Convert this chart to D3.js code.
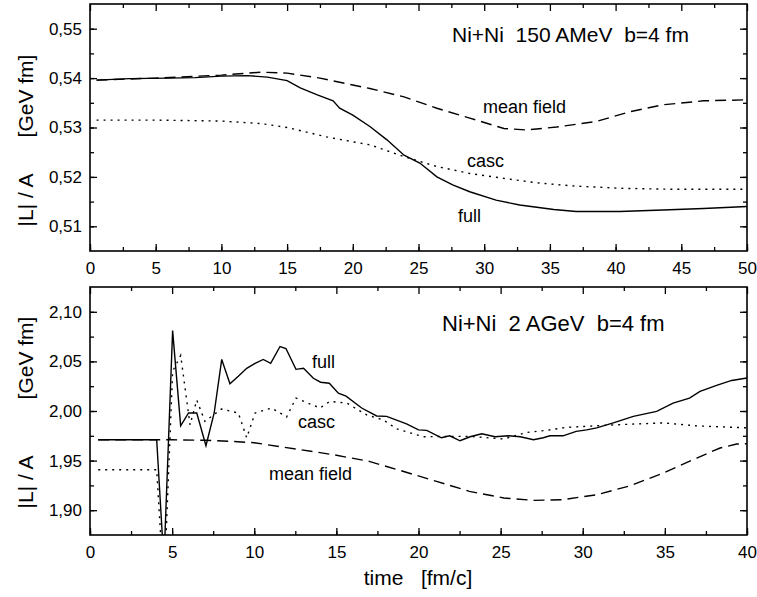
<!DOCTYPE html>
<html>
<head>
<meta charset="utf-8">
<script src="https://cdn.jsdelivr.net/npm/d3@7"></script>
<style>
  body { margin: 0; background: #fff; }
  text { font-family: "Liberation Sans", Arial, sans-serif; fill: #000; }
</style>
</head>
<body>
<div id="chart"></div>
<script>
// Angular momentum per nucleon vs. time, two panels (Ni+Ni 150 AMeV and 2 AGeV)

// ---- upper panel, [time, |L|/A] ----
const topFull = [[0.5,0.5396],[3,0.5399],[6,0.5400],[8,0.5401],[10,0.5404],[12,0.5405],[13.5,0.5402],[15,0.5395],
  [16,0.5380],[17.3,0.5366],[18.5,0.5354],[19,0.5339],[20,0.5325],[21.3,0.5302],[22.6,0.5275],[23.9,0.5244],
  [25.1,0.5228],[26.4,0.5200],[27.6,0.5184],[28.9,0.5170],[30.9,0.5153],[32.7,0.5143],[35.3,0.5134],[37,0.5130],
  [40.3,0.5130],[43.6,0.5133],[46.7,0.5136],[50,0.5140]];
const topMeanField = [[0.5,0.5396],[5,0.5400],[10,0.5406],[13,0.5412],[15,0.5410],[17.5,0.5400],[20,0.5386],
  [21.3,0.5379],[23.9,0.5362],[26.4,0.5339],[28.9,0.5319],[31.5,0.5298],[33.2,0.5295],[35.5,0.5301],[38.5,0.5312],
  [41.1,0.5332],[43.6,0.5346],[46.7,0.5354],[50,0.5356]];
const topCasc = [[0.5,0.5315],[5,0.5315],[10,0.5313],[13,0.5308],[15,0.5300],[18,0.5281],[20,0.5271],[21.3,0.5265],
  [23.9,0.5241],[26.4,0.5221],[28.9,0.5207],[31.5,0.5197],[34,0.5188],[36.6,0.5182],[40.3,0.5177],[44.2,0.5175],
  [50,0.5175]];

// ---- lower panel ----
const botFull = [[0.5,1.971],[4.06,1.971],[4.5,1.847],[5.03,2.081],[5.52,1.985],[6.0,1.998],[6.5,1.998],[7.06,1.965],
  [7.56,1.998],[8.02,2.052],[8.52,2.0275],[9.03,2.035],[9.54,2.043],[10.05,2.048],[10.55,2.052],[11.0,2.048],
  [11.57,2.065],[11.93,2.063],[12.54,2.042],[13.0,2.043],[13.6,2.033],[14.04,2.029],[14.57,2.028],[15.12,2.018],
  [15.59,2.015],[16.54,2.003],[17.45,1.995],[18.06,1.9946],[19.27,1.987],[20.0,1.981],[20.5,1.9805],[21.4,1.973],
  [21.9,1.975],[22.53,1.970],[23.14,1.974],[23.85,1.977],[24.66,1.974],[25.47,1.975],[26.2,1.974],[27.0,1.971],
  [27.6,1.973],[28.0,1.975],[28.8,1.975],[29.6,1.9795],[30.24,1.981],[30.85,1.983],[31.86,1.988],[33.08,1.9946],
  [34.5,1.9996],[35.5,2.008],[36.5,2.013],[37.14,2.0198],[38.15,2.0258],[39.07,2.0308],[40,2.0333]];
const botCasc = [[0.5,1.9408],[4.06,1.9408],[4.5,1.82],[5.03,2.04],[5.52,2.056],[6.09,1.986],[6.5,2.011],[7.0,1.9895],
  [8.0,2.002],[9.03,1.998],[9.54,1.973],[10.05,1.998],[11.06,2.003],[11.97,1.994],[12.54,2.013],[14.0,2.003],
  [14.6,2.0097],[15.63,2.008],[16.85,1.996],[17.86,1.991],[18.67,1.982],[20.3,1.974],[21.7,1.9744],[23.1,1.9744],
  [25.2,1.9718],[26.6,1.9784],[27.8,1.9805],[29.0,1.9835],[30.2,1.9845],[31.86,1.986],[34.9,1.988],[36.94,1.985],
  [40,1.983]];
const botMeanField = [[0.5,1.971],[5,1.971],[7,1.9705],[8.5,1.9695],[10,1.968],[12.8,1.961],[14.8,1.956],[17,1.9492],
  [19.1,1.939],[21.1,1.929],[23.1,1.919],[25.2,1.9123],[27,1.9099],[28.8,1.9106],[30.85,1.9156],[32.9,1.9247],
  [34.9,1.9375],[36.94,1.9526],[38.36,1.9627],[39.37,1.9667],[40,1.967]];

// Tick values
const topXTicks = [0, 5, 10, 15, 20, 25, 30, 35, 40, 45, 50];
const topYTicks = [0.51, 0.52, 0.53, 0.54, 0.55];
const botXTicks = [0, 5, 10, 15, 20, 25, 30, 35, 40];
const botYTicks = [1.90, 1.95, 2.00, 2.05, 2.10];

const width = 757, height = 597;
const svg = d3.select("#chart").append("svg")
              .attr("width", width)
              .attr("height", height);

const commaFmt = d3.formatLocale({decimal: ",", thousands: ".", grouping: [3], currency: ["", ""]});

function drawPanel(cfg) {
    const x = d3.scaleLinear().domain(cfg.xDomain).range([90, 747]);
    const y = d3.scaleLinear().domain(cfg.yDomain).range([cfg.bottom, cfg.top]);
    const g = svg.append("g");

    // Clip the curves to the frame (the spike near t=5 leaves it)
    g.append("clipPath").attr("id", cfg.id + "-clip")
     .append("rect")
     .attr("x", 90).attr("y", cfg.top)
     .attr("width", 657).attr("height", cfg.bottom - cfg.top);

    const line = d3.line().x(d => x(d[0])).y(d => y(d[1]));
    const curves = g.append("g").attr("clip-path", "url(#" + cfg.id + "-clip)");
    cfg.series.forEach(function (s) {
        curves.append("path")
              .datum(s.data)
              .attr("fill", "none")
              .attr("stroke", "#000")
              .attr("stroke-width", 1.4)
              .attr("stroke-dasharray", s.dash)
              .attr("d", line);
    });

    // Axes with inward ticks on all four sides
    const yFmt = commaFmt.format(cfg.yFormat);
    const xMinor = d3.range(cfg.xDomain[0], cfg.xDomain[1] + 0.01, cfg.xMinorStep);
    const yMinor = d3.range(cfg.yTicks[0] - cfg.yMinorStep, cfg.yDomain[1], cfg.yMinorStep)
                     .filter(v => v > cfg.yDomain[0] && v < cfg.yDomain[1]);

    g.append("g").attr("transform", "translate(0," + cfg.bottom + ")")
     .call(d3.axisBottom(x).tickValues(cfg.xTicks).tickSize(-7).tickPadding(11).tickFormat(d3.format("d")));
    g.append("g").attr("transform", "translate(0," + cfg.bottom + ")")
     .call(d3.axisBottom(x).tickValues(xMinor).tickSize(-4).tickFormat(""));
    g.append("g").attr("transform", "translate(0," + cfg.top + ")")
     .call(d3.axisTop(x).tickValues(xMinor).tickSize(-7).tickFormat(""))
     .selectAll(".tick line").attr("y2", (d, i) => i % 2 ? 4 : 7);
    g.append("g").attr("transform", "translate(90,0)")
     .call(d3.axisLeft(y).tickValues(cfg.yTicks).tickSize(-7).tickPadding(8).tickFormat(yFmt));
    g.append("g").attr("transform", "translate(90,0)")
     .call(d3.axisLeft(y).tickValues(yMinor).tickSize(-4).tickFormat(""));
    g.append("g").attr("transform", "translate(747,0)")
     .call(d3.axisRight(y).tickValues(cfg.yTicks).tickSize(-7).tickFormat(""));
    g.append("g").attr("transform", "translate(747,0)")
     .call(d3.axisRight(y).tickValues(yMinor).tickSize(-4).tickFormat(""));

    g.selectAll(".domain").remove();
    g.selectAll(".tick line").attr("stroke", "#000").attr("stroke-width", 1.3);
    g.selectAll(".tick text").style("font-size", "17px").attr("fill", "#000");

    // Frame
    g.append("rect")
     .attr("x", 90).attr("y", cfg.top)
     .attr("width", 657).attr("height", cfg.bottom - cfg.top)
     .attr("fill", "none").attr("stroke", "#000").attr("stroke-width", 1.6);

    // Y title, drawn as two parts like the original spacing
    cfg.yTitle.forEach(function (t) {
        g.append("text")
         .attr("transform", "translate(33," + t.y + ") rotate(-90)")
         .attr("text-anchor", "middle")
         .style("font-size", "21px")
         .text(t.text);
    });

    // Curve labels and panel caption
    cfg.labels.forEach(function (l) {
        g.append("text")
         .attr("x", l.x).attr("y", l.y)
         .style("font-size", l.size + "px")
         .style("white-space", "pre")
         .text(l.text);
    });
}

drawPanel({
    id: "top", top: 4, bottom: 251,
    xDomain: [0, 50], yDomain: [0.505, 0.555],
    xTicks: topXTicks, yTicks: topYTicks, xMinorStep: 2.5, yMinorStep: 0.005, yFormat: ".2f",
    series: [
        {data: topFull, dash: null},
        {data: topMeanField, dash: "11,6"},
        {data: topCasc, dash: "2,5"}
    ],
    yTitle: [{text: "[GeV fm]", y: 96}, {text: "|L| / A", y: 200}],
    labels: [
        {text: "Ni+Ni  150 AMeV  b=4 fm", x: 452, y: 42, size: 21},
        {text: "mean field", x: 483, y: 113, size: 18},
        {text: "casc", x: 467, y: 167, size: 18},
        {text: "full", x: 458, y: 222, size: 18}
    ]
});

drawPanel({
    id: "bot", top: 287, bottom: 535,
    xDomain: [0, 40], yDomain: [1.875, 2.125],
    xTicks: botXTicks, yTicks: botYTicks, xMinorStep: 2.5, yMinorStep: 0.025, yFormat: ".2f",
    series: [
        {data: botFull, dash: null},
        {data: botMeanField, dash: "11,6"},
        {data: botCasc, dash: "2,5"}
    ],
    yTitle: [{text: "[GeV fm]", y: 358}, {text: "|L| / A", y: 482}],
    labels: [
        {text: "Ni+Ni  2 AGeV  b=4 fm", x: 442, y: 331, size: 22},
        {text: "full", x: 312, y: 368, size: 18},
        {text: "casc", x: 298, y: 428, size: 18},
        {text: "mean field", x: 269, y: 480, size: 18}
    ]
});

// X axis title
svg.append("text")
   .attr("x", 418).attr("y", 585)
   .attr("text-anchor", "middle")
   .style("font-size", "21px")
   .style("white-space", "pre")
   .text("time   [fm/c]");
</script>
</body>
</html>
